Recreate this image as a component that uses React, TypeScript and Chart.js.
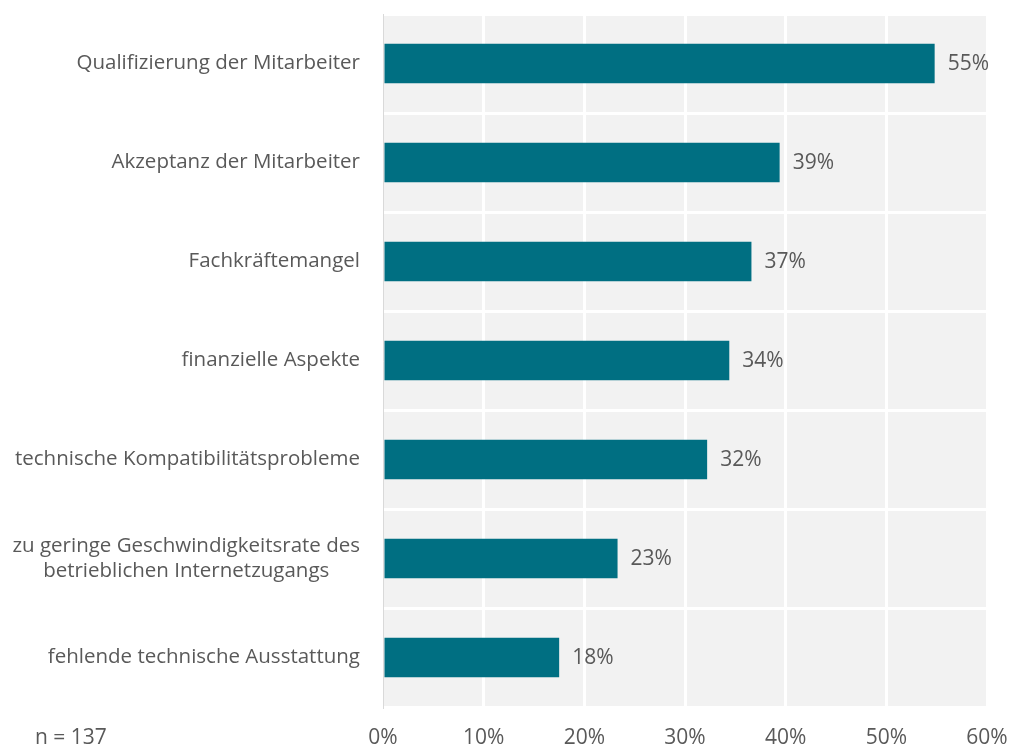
import React, { useEffect, useRef } from "react";
import { Chart, registerables } from "chart.js";

Chart.register(...registerables);

const categories: string[][] = [
  ["Qualifizierung der Mitarbeiter"],
  ["Akzeptanz der Mitarbeiter"],
  ["Fachkräftemangel"],
  ["finanzielle Aspekte"],
  ["technische Kompatibilitätsprobleme"],
  ["zu geringe Geschwindigkeitsrate des", "betrieblichen Internetzugangs"],
  ["fehlende technische Ausstattung"],
];
const values: number[] = [54.8, 39.4, 36.6, 34.4, 32.2, 23.3, 17.5];
const xTicks: number[] = [0, 10, 20, 30, 40, 50, 60];
const sampleNote = "n = 137";

const FONT = "'Open Sans', 'Noto Sans', sans-serif";
const TEXT = "#595959";
const BAR = "#006F82";

export default function App() {
  const ref = useRef<HTMLCanvasElement>(null);
  useEffect(() => {
    const bgPlugin = {
      id: "bg",
      beforeDraw(chart: any) {
        const { ctx, chartArea: a } = chart;
        ctx.save();
        ctx.fillStyle = "#f2f2f2";
        ctx.fillRect(a.left, a.top, a.right - a.left, a.bottom - a.top);
        ctx.restore();
      },
    };
    const labelPlugin = {
      id: "labels",
      afterDatasetsDraw(chart: any) {
        const { ctx } = chart;
        const y = chart.scales.y;
        const x = chart.scales.x;
        ctx.save();
        ctx.fillStyle = TEXT;
        ctx.textBaseline = "middle";
        // category labels
        ctx.font = `20.5px ${FONT}`;
        categories.forEach((lines, i) => {
          const cy = y.getPixelForValue(i);
          const widths = lines.map((l) => ctx.measureText(l).width);
          const maxW = Math.max(...widths);
          const center = 360 - maxW / 2;
          const lh = 25;
          lines.forEach((l, j) => {
            ctx.textAlign = "center";
            ctx.fillText(l, center, cy + (j - (lines.length - 1) / 2) * lh);
          });
        });
        // value labels
        ctx.font = `21px ${FONT}`;
        const meta = chart.getDatasetMeta(0);
        meta.data.forEach((bar: any, i: number) => {
          ctx.textAlign = "left";
          ctx.fillText(Math.round(values[i]) + "%", bar.x + 13, bar.y + 1);
        });
        // n note
        ctx.textAlign = "left";
        ctx.fillText(sampleNote, 35, x.bottom - 9);
        ctx.restore();
      },
    };
    const chart = new Chart(ref.current!, {
      type: "bar",
      data: {
        labels: categories.map((c) => c.join(" ")),
        datasets: [
          {
            data: values,
            backgroundColor: BAR,
            barPercentage: 0.4,
            categoryPercentage: 1,
          },
        ],
      },
      options: {
        indexAxis: "y",
        animation: false,
        responsive: false,
        layout: { padding: { top: 14, right: 23, bottom: 0, left: 0 } },
        plugins: { legend: { display: false }, tooltip: { enabled: false } },
        scales: {
          x: {
            min: 0,
            max: 60,
            afterBuildTicks: (s: any) => {
              s.ticks = xTicks.map((v) => ({ value: v }));
            },
            afterFit: (s: any) => {
              s.height = 40;
              s.paddingLeft = 0;
              s.paddingRight = 0;
            },
            grid: {
              color: (c: any) => (c.tick && c.tick.value === 0 ? "rgba(0,0,0,0)" : "#ffffff"),
              lineWidth: 3,
              drawTicks: false,
            },
            border: { display: false },
            ticks: {
              padding: 18,
              color: TEXT,
              font: { family: FONT, size: 21 },
              callback: (v: any) => v + "%",
              maxRotation: 0,
            },
          },
          y: {
            afterFit: (s: any) => {
              s.width = 383;
              s.paddingTop = 0;
              s.paddingBottom = 0;
            },
            grid: { color: "#ffffff", lineWidth: 3, drawTicks: false, offset: true },
            border: { display: true, color: "#d9d9d9", width: 1 },
            ticks: { display: false },
          },
        },
      },
      plugins: [bgPlugin, labelPlugin],
    });
    return () => chart.destroy();
  }, []);
  return (
    <div style={{ position: "absolute", left: 0, top: 0, width: 1010, height: 747, background: "#fff" }}>
      <canvas ref={ref} width={1010} height={747} style={{ display: "block" }} />
    </div>
  );
}
